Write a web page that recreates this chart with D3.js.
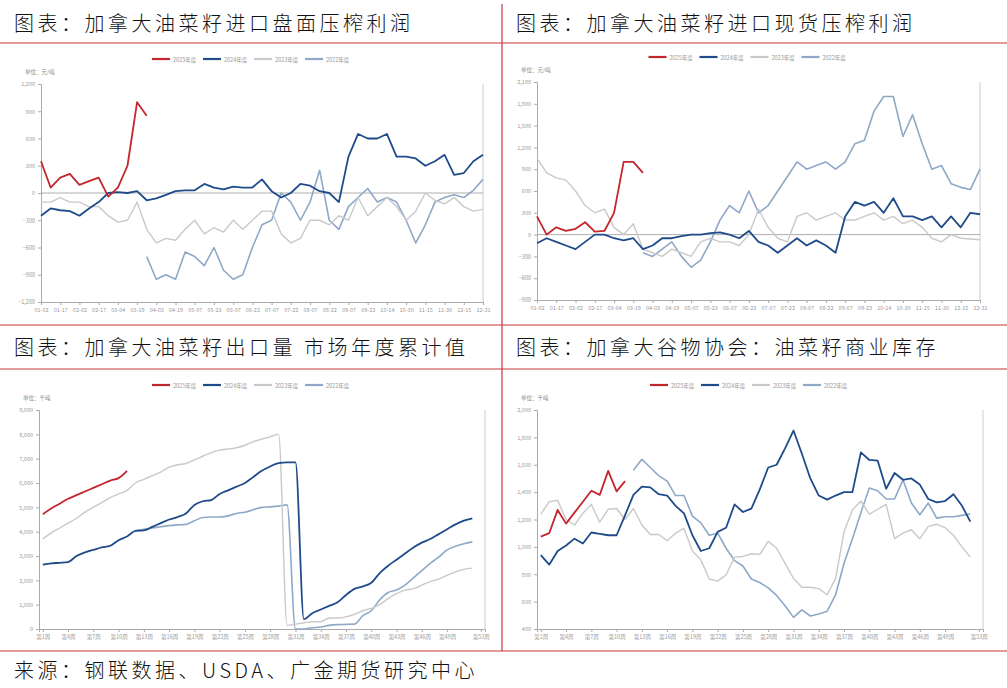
<!DOCTYPE html>
<html><head><meta charset="utf-8">
<script src="https://cdn.jsdelivr.net/npm/d3@7"></script>
<style>body{margin:0;background:#fff}svg{display:block}</style>
</head><body><svg id="c" width="1007" height="688"></svg>
<script>
const years = ['2025年度', '2024年度', '2023年度', '2022年度'];
const colors = ['#c3262d', '#1f4b8a', '#c9c9c9', '#8ea8c8'];
const widths = [1.8, 1.8, 1.4, 1.6];

// 上图：日期刻度（每两个数据点一个刻度）
const dateTicks = ['01-02','01-17','02-02','02-17','03-04','03-19','04-03','04-19','05-07','05-23','06-07','06-22',
  '07-07','07-22','08-07','08-22','09-07','09-23','10-14','10-30','11-15','11-30','12-15','12-31'];

// 盘面压榨利润 (元/吨)
const futures2025 = [350,60,170,210,90,130,170,-40,60,300,1000,850];
const futures2024 = [-250,-170,-190,-200,-250,-170,-100,0,10,0,20,-80,-60,-20,20,30,30,100,60,40,70,60,60,150,20,-50,0,100,80,20,0,-100,
  400,650,600,600,650,400,400,380,300,350,420,200,220,350,420];
const futures2023 = [-100,-100,-50,-100,-100,-150,-150,-250,-320,-300,-100,-400,-550,-500,-520,-400,-300,-450,-380,-430,-300,-400,-300,-200,
  -200,-450,-550,-500,-300,-300,-350,-250,-300,-50,-250,-150,-50,-150,-300,-200,0,-80,-120,-50,-150,-200,-180];
const futures2022 = [null,null,null,null,null,null,null,null,null,null,null,-700,-950,-900,-950,-650,-700,-800,-600,-850,-950,-900,-600,-350,
  -300,0,-100,-300,-100,250,-300,-400,-150,-50,50,-100,-50,-100,-300,-550,-350,-100,-50,-20,-50,30,150];

// 现货压榨利润 (元/吨)
const spot2025 = [250,0,100,50,80,170,40,50,300,1000,1000,850];
const spot2024 = [-120,-50,-100,-150,-200,-100,0,0,-50,-80,-50,-200,-150,-50,-50,-20,0,0,20,30,0,-50,50,-100,-150,-250,-150,-50,-150,-80,
  -150,-250,250,450,400,450,300,500,250,250,200,250,100,250,100,300,280];
const spot2023 = [1050,850,780,750,600,400,300,350,100,0,150,-200,-250,-300,-200,-250,-300,-100,-50,-100,-100,-150,0,350,100,-50,-100,250,
  300,200,250,300,200,200,250,300,200,250,150,200,100,-50,-100,0,-50,-60,-70];
const spot2022 = [null,null,null,null,null,null,null,null,null,null,null,-250,-300,-200,-100,-300,-450,-350,-100,200,400,300,600,300,400,600,
  800,1000,900,950,1000,900,1000,1250,1300,1700,1900,1900,1350,1650,1250,900,950,700,650,620,900];

// 下图：周度
const weekTicks = ['第1周','第4周','第7周','第10周','第13周','第16周','第19周','第22周','第25周','第28周','第31周','第34周',
  '第37周','第40周','第43周','第46周','第49周','第53周'];

// 出口量 市场年度累计值 (千吨)，第1周起
const export2025 = [4720,4950,5150,5350,5500,5650,5800,5950,6100,6200,6500];
const export2024 = [2650,2700,2720,2750,3000,3150,3250,3350,3420,3650,3800,4030,4050,4200,4350,4500,4600,4750,5100,5250,5300,5550,5700,
  5850,6000,6250,6500,6680,6820,6850,6850,400,650,800,950,1100,1400,1650,1750,1900,2300,2600,2850,3100,3350,3550,3700,3900,4100,4300,4450,4550];
const export2023 = [3700,3950,4150,4350,4550,4800,5000,5200,5400,5550,5700,6000,6150,6300,6450,6650,6750,6800,6950,7100,7250,7350,7400,
  7450,7550,7700,7800,7900,8000,150,200,250,300,300,450,450,500,600,750,850,1000,1250,1450,1600,1650,1800,1950,2050,2200,2350,2450,2500];
const export2022 = [null,null,null,null,null,null,null,null,null,null,null,4050,4100,4150,4200,4250,4280,4300,4450,4580,4600,4600,4650,
  4750,4800,4900,5000,5020,5050,5100,0,0,50,80,150,180,190,200,550,750,1200,1500,1600,1800,2100,2400,2700,2950,3250,3400,3500,3580];

// 油菜籽商业库存 (千吨)
const stock2025 = [1075,1100,1270,1170,1250,1330,1410,1380,1555,1405,1480];
const stock2024 = [940,870,970,1010,1060,1025,1105,1095,1085,1085,1230,1380,1440,1435,1385,1375,1300,1245,1085,970,990,1110,1140,1310,
  1255,1280,1420,1580,1600,1720,1850,1680,1500,1375,1345,1375,1400,1400,1690,1635,1630,1425,1540,1490,1500,1455,1350,1325,1335,1385,1300,1185];
const stock2023 = [1240,1330,1340,1200,1160,1245,1310,1180,1275,1280,1200,1280,1160,1090,1090,1045,1100,1135,970,905,765,750,795,925,930,
  950,945,1040,990,880,770,705,705,695,650,770,1110,1270,1335,1240,1275,1310,1060,1100,1125,1060,1150,1165,1140,1085,1000,925];
const stock2022 = [null,null,null,null,null,null,null,null,null,null,null,1560,1640,1580,1520,1480,1375,1375,1225,1175,1085,1100,990,900,
  860,765,740,700,645,570,485,540,495,510,530,650,880,1060,1250,1430,1410,1350,1350,1490,1320,1235,1320,1210,1220,1220,1230,1240];

const svg = d3.select('#c');
const red = '#c8363b';

// 分隔线
[[0,43,1007,43],[0,325,1007,325],[0,369,1007,369],[0,651,1007,651],[502,4,502,651]].forEach(l => {
  svg.append('line').attr('x1', l[0]).attr('y1', l[1]).attr('x2', l[2]).attr('y2', l[3])
    .attr('stroke', red).attr('stroke-width', 1.2);
});

const titleFont = '"Noto Sans CJK SC", sans-serif';
[['图表：加拿大油菜籽进口盘面压榨利润', 14, 31], ['图表：加拿大油菜籽进口现货压榨利润', 516, 31],
 ['图表：加拿大油菜籽出口量 市场年度累计值', 14, 355], ['图表：加拿大谷物协会：油菜籽商业库存', 516, 355],
 ['来源：钢联数据、USDA、广金期货研究中心', 14, 678]].forEach(t => {
  svg.append('text').attr('x', t[1]).attr('y', t[2]).text(t[0])
    .attr('font-family', titleFont).attr('font-size', 20).attr('letter-spacing', 3.5)
    .attr('font-weight', 300).attr('fill', '#111');
});

function drawChart(o) {
  const g = svg.append('g');
  const x = d3.scaleLinear().domain(o.xDomain).range([o.left, o.right]);
  const y = d3.scaleLinear().domain(o.yDomain).range([o.bottom, o.top]);

  // 图例
  const lx = (o.left + o.right) / 2 - 110;
  years.forEach((yr, i) => {
    const lg = g.append('g').attr('transform', `translate(${lx + i * 51},${o.top - 25})`);
    lg.append('line').attr('x1', 0).attr('x2', 18).attr('stroke', colors[i]).attr('stroke-width', 2.2);
    lg.append('text').attr('x', 21).attr('y', 2.5).text(yr).attr('font-size', 5.5)
      .attr('fill', '#999').attr('font-family', titleFont);
  });
  g.append('text').attr('x', o.left - 16).attr('y', o.top - 10).text(o.unit)
    .attr('font-size', 5.5).attr('fill', '#888').attr('font-family', titleFont);

  const ya = g.append('g').attr('transform', `translate(${o.left},0)`)
    .call(d3.axisLeft(y).tickValues(o.yTicks).tickSize(3).tickFormat(d3.format(',')));
  const xa = g.append('g').attr('transform', `translate(0,${o.bottom})`)
    .call(d3.axisBottom(x).tickValues(o.xTickVals).tickSize(3).tickFormat((d, i) => o.xLabels[i]));
  [ya, xa].forEach(a => {
    a.selectAll('path,line').attr('stroke', '#aaa');
    a.selectAll('text').attr('fill', '#999').attr('font-size', 5.5).attr('font-family', titleFont);
  });
  g.append('line').attr('x1', o.right).attr('x2', o.right).attr('y1', o.top).attr('y2', o.bottom)
    .attr('stroke', '#ccc');
  if (o.zeroLine) {
    g.append('line').attr('x1', o.left).attr('x2', o.right).attr('y1', y(0)).attr('y2', y(0))
      .attr('stroke', '#999').attr('stroke-width', 0.8);
  }

  const line = d3.line().defined(d => d != null)
    .x((d, i) => x(o.x0 + i * o.step)).y(d => y(d)).curve(o.curve || d3.curveLinear);
  [3, 2, 1, 0].forEach(i => {
    g.append('path').datum(o.series[i]).attr('fill', 'none').attr('stroke', colors[i])
      .attr('stroke-width', widths[i]).attr('stroke-linejoin', 'round').attr('d', line);
  });
}

drawChart({left: 41, right: 483, top: 84, bottom: 302, xDomain: [0, 23], yDomain: [-1200, 1200],
  yTicks: d3.range(-1200, 1201, 300), xTickVals: d3.range(0, 24), xLabels: dateTicks, x0: 0, step: 0.5,
  unit: '单位：元/吨', zeroLine: true, series: [futures2025, futures2024, futures2023, futures2022]});
drawChart({left: 537, right: 980, top: 82, bottom: 300, xDomain: [0, 23], yDomain: [-900, 2100],
  yTicks: d3.range(-900, 2101, 300), xTickVals: d3.range(0, 24), xLabels: dateTicks, x0: 0, step: 0.5,
  unit: '单位：元/吨', zeroLine: true, series: [spot2025, spot2024, spot2023, spot2022]});

const weekVals = [1,4,7,10,13,16,19,22,25,28,31,34,37,40,43,46,49,53];
drawChart({left: 39, right: 485, top: 410, bottom: 629, xDomain: [0.55, 53.5], yDomain: [0, 9000],
  yTicks: d3.range(0, 9001, 1000), xTickVals: weekVals, xLabels: weekTicks, x0: 1, step: 1,
  unit: '单位：千吨', curve: d3.curveMonotoneX, series: [export2025, export2024, export2023, export2022]});
drawChart({left: 537, right: 983, top: 410, bottom: 629, xDomain: [0.55, 53.5], yDomain: [400, 2000],
  yTicks: d3.range(400, 2001, 200), xTickVals: weekVals, xLabels: weekTicks, x0: 1, step: 1,
  unit: '单位：千吨', series: [stock2025, stock2024, stock2023, stock2022]});
</script></body></html>
